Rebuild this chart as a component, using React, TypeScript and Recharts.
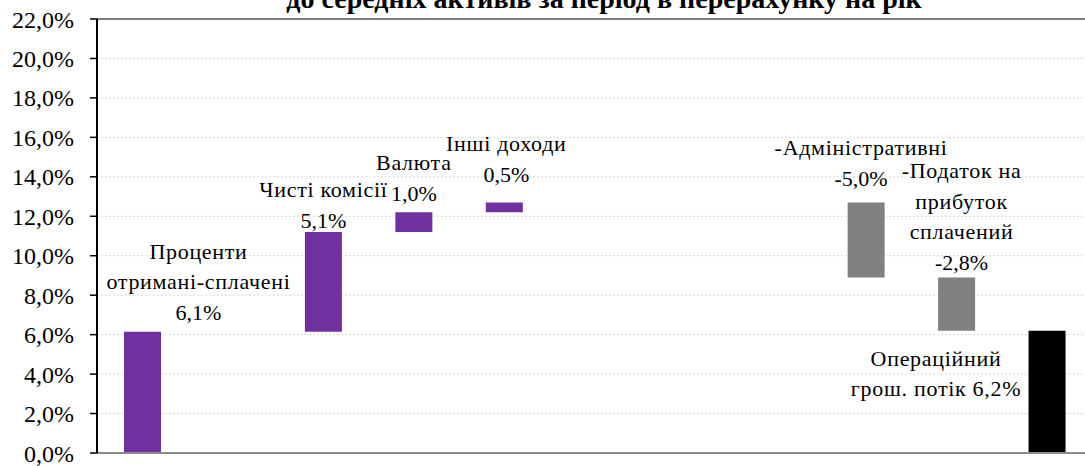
import React from 'react';
import {
  BarChart,
  Bar,
  XAxis,
  YAxis,
  CartesianGrid,
  ReferenceLine,
  LabelList,
  Cell,
} from 'recharts';

const categories = [
  'Проценти отримані-сплачені',
  'gap1',
  'Чисті комісії',
  'Валюта',
  'Інші доходи',
  'gap2',
  'gap3',
  'gap4',
  '-Адміністративні',
  '-Податок на прибуток сплачений',
  'Операційний грош. потік',
];

const rangeLow = [0, null, 6.15, 11.2, 12.2, null, null, null, 8.9, 6.2, 0];
const rangeHigh = [6.15, null, 11.2, 12.2, 12.7, null, null, null, 12.7, 8.9, 6.2];
const shownValues = [6.1, null, 5.1, 1.0, 0.5, null, null, null, -5.0, -2.8, 6.2];

const labelLines: string[][] = [
  ['Проценти', 'отримані-сплачені'],
  [],
  ['Чисті комісії'],
  ['Валюта'],
  ['Інші доходи'],
  [],
  [],
  [],
  ['-Адміністративні'],
  ['-Податок на', 'прибуток', 'сплачений'],
  ['Операційний', 'грош. потік'],
];

const yTicks = [0, 2, 4, 6, 8, 10, 12, 14, 16, 18, 20, 22];

const PURPLE = '#7030A0';
const GREY = '#808080';
const colors = [PURPLE, PURPLE, PURPLE, PURPLE, PURPLE, GREY, GREY, GREY, GREY, GREY, '#000000'];

// label placement relative to bar centre / bar top: dx, dy of first baseline, value on last line?
const labelLayout = [
  { dx: 56, dy: -73, inline: false },
  { dx: 0, dy: 0, inline: false },
  { dx: 0, dy: -35, inline: false },
  { dx: 0, dy: -42, inline: false },
  { dx: 2, dy: -51, inline: false },
  { dx: 0, dy: 0, inline: false },
  { dx: 0, dy: 0, inline: false },
  { dx: 0, dy: 0, inline: false },
  { dx: -5, dy: -47, inline: false },
  { dx: 5, dy: -99, inline: false },
  { dx: -111, dy: 35, inline: true },
];

const FONT = "'Liberation Serif', 'Times New Roman', serif";
const LINE_H = 30.5;

const fmt = (v: number) => v.toFixed(1).replace('.', ',') + '%';

const data = categories.map((name, i) => ({
  name,
  range: rangeLow[i] == null ? null : [rangeLow[i], rangeHigh[i]],
}));

// LabelList skips empty slots, so find the category from the range itself
const findIndex = (value: any) => {
  if (!Array.isArray(value)) return -1;
  return rangeLow.findIndex((lo, i) => lo === value[0] && rangeHigh[i] === value[1]);
};

const renderLabel = (props: any) => {
  const { x, y, width, value } = props;
  const index = findIndex(value);
  if (index < 0) return null;
  const v = shownValues[index];
  if (v == null || x == null) return null;
  const lay = labelLayout[index];
  const lines = [...labelLines[index]];
  if (lay.inline) lines[lines.length - 1] = lines[lines.length - 1] + ' ' + fmt(v);
  else lines.push(fmt(v));
  const cx = Number(x) + Number(width) / 2 + lay.dx;
  const top = Number(y) + lay.dy;
  return (
    <g key={'lbl' + index}>
      {lines.map((t, k) => (
        <text
          key={k}
          x={cx}
          y={top + k * LINE_H}
          textAnchor="middle"
          style={{
            fontFamily: FONT,
            fontSize: 22,
            letterSpacing: /[А-Яа-яІіЇї]/.test(t) ? 0.7 : 0,
          }}
          fill="#000"
        >
          {t}
        </text>
      ))}
    </g>
  );
};

export default function App() {
  return (
    <div
      style={{
        position: 'absolute',
        left: 0,
        top: 0,
        width: 1085,
        height: 466,
        overflow: 'hidden',
        background: '#fff',
        fontFamily: FONT,
      }}
    >
      <svg
        width={1085}
        height={30}
        style={{ position: 'absolute', left: 0, top: 0, zIndex: 2 }}
      >
        <text
          x={604}
          y={8}
          textAnchor="middle"
          style={{ fontFamily: FONT, fontSize: 28, fontWeight: 'bold' }}
          fill="#000"
        >
          до середніх активів за період в перерахунку на рік
        </text>
      </svg>
      <BarChart
        width={1100}
        height={466}
        data={data}
        margin={{ top: 19, right: 8, left: 0, bottom: 0 }}
        barSize={37}
        style={{ fontFamily: FONT }}
      >
        <CartesianGrid vertical={false} stroke="#d9d9d9" strokeDasharray="2 2" />
        <XAxis
          dataKey="name"
          tick={false}
          tickLine={false}
          height={13}
          axisLine={{ stroke: '#8c8c8c', strokeWidth: 2 }}
        />
        <YAxis
          width={97}
          domain={[0, 22]}
          ticks={yTicks}
          interval={0}
          tickFormatter={fmt}
          tickSize={7}
          tickMargin={16}
          axisLine={{ stroke: '#000', strokeWidth: 2 }}
          tickLine={{ stroke: '#000', strokeWidth: 1.5 }}
          tick={{ fontSize: 24, fill: '#000', style: { fontFamily: FONT } }}
        />
        <ReferenceLine y={22} stroke="#7f7f7f" strokeWidth={2} />
        <Bar dataKey="range" isAnimationActive={false}>
          {data.map((d, i) => (
            <Cell key={d.name} fill={colors[i]} />
          ))}
          <LabelList dataKey="range" content={renderLabel} />
        </Bar>
      </BarChart>
    </div>
  );
}
